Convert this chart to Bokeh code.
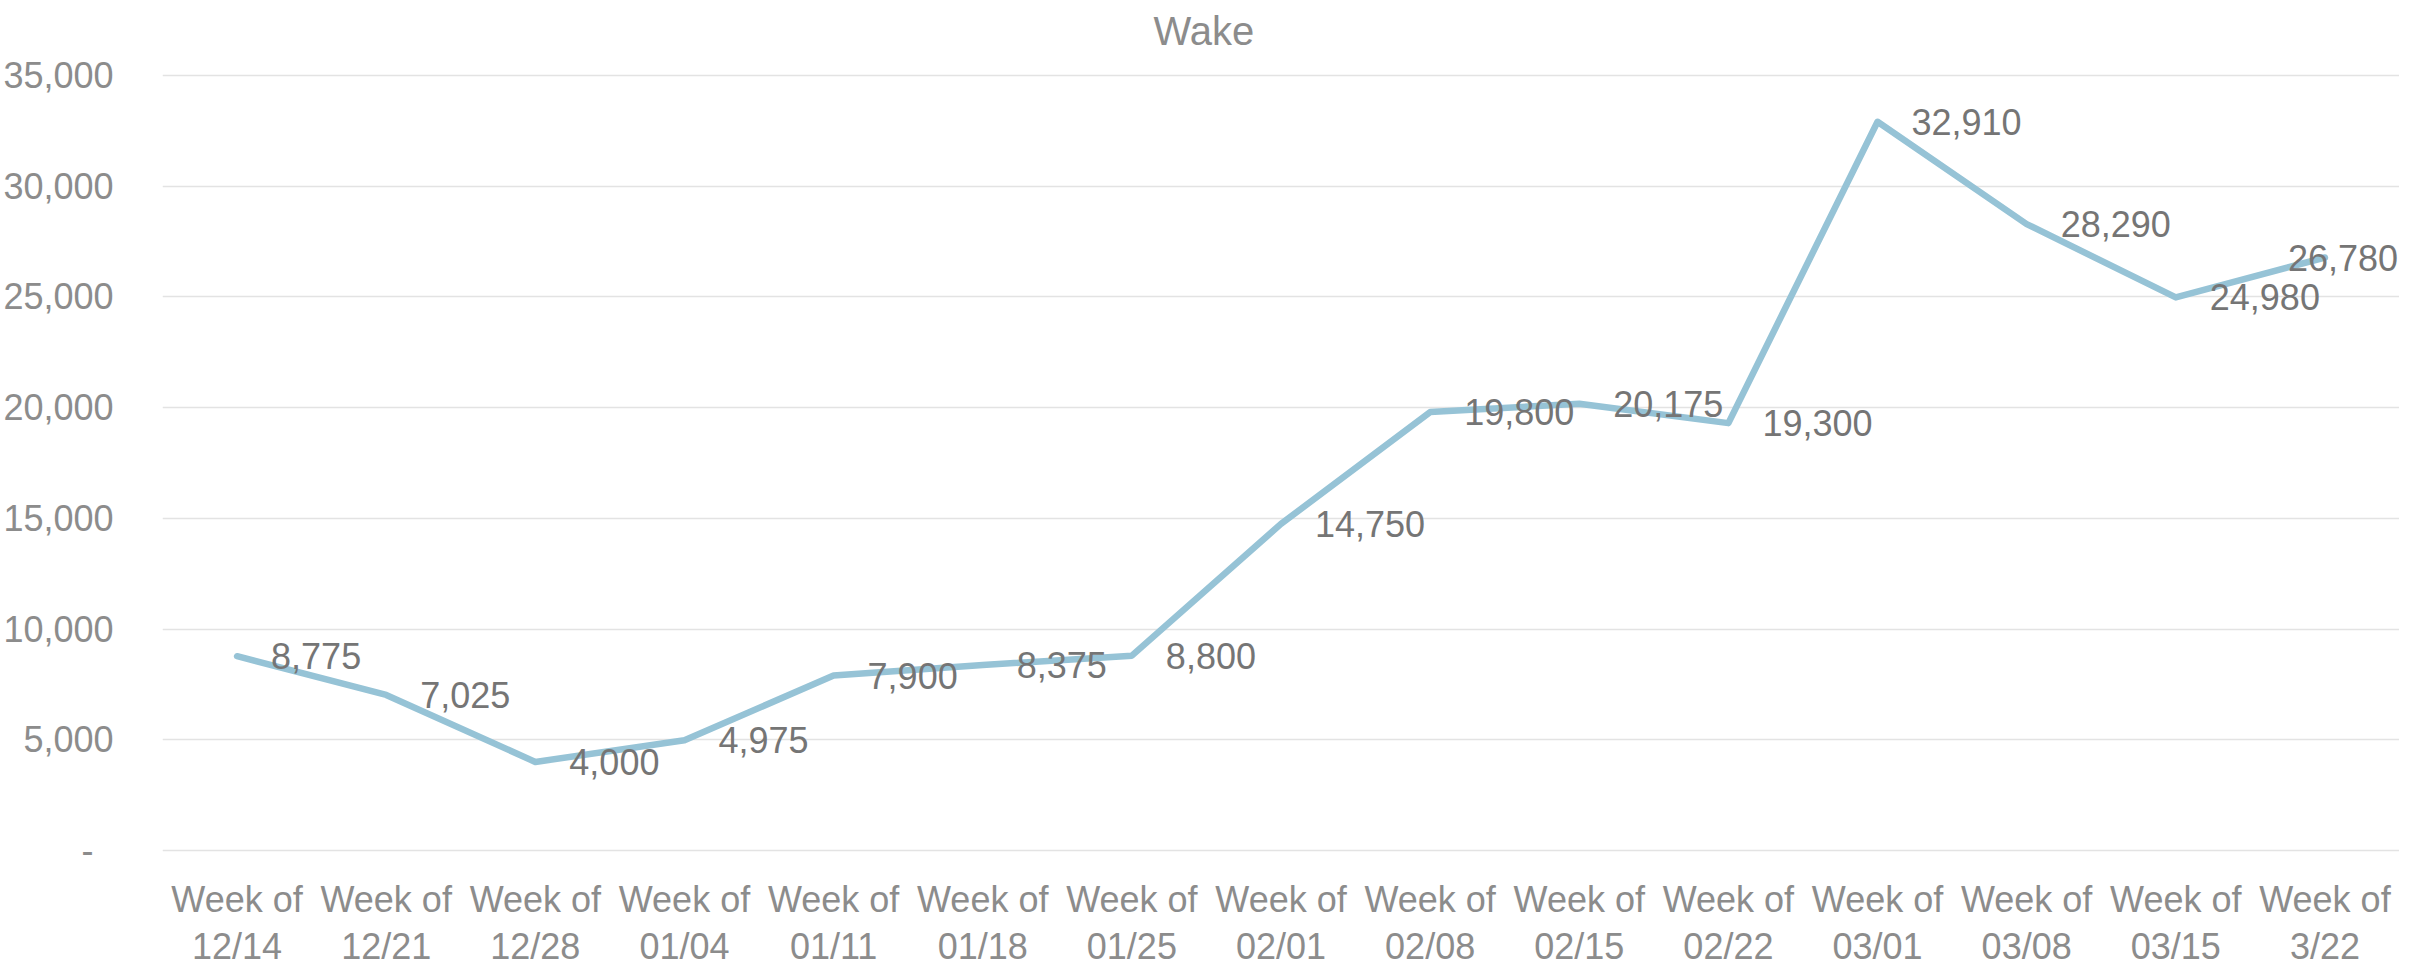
from bokeh.plotting import figure
from bokeh.models import (ColumnDataSource, FactorRange, Range1d, NumeralTickFormatter,
                          FixedTicker, Label)
from bokeh.core.properties import value
from bokeh.embed import file_html
from bokeh.resources import INLINE

# ---- data ----
weeks = ["12/14", "12/21", "12/28", "01/04", "01/11", "01/18", "01/25", "02/01",
         "02/08", "02/15", "02/22", "03/01", "03/08", "03/15", "3/22"]
cases = [8775, 7025, 4000, 4975, 7900, 8375, 8800, 14750,
         19800, 20175, 19300, 32910, 28290, 24980, 26780]
y_ticks = [0, 5000, 10000, 15000, 20000, 25000, 30000, 35000]
week_prefix = "Week of"
title_text = "Wake"

labels = [f"{v:,}" for v in cases]
label_dx = [34] * (len(cases) - 1) + [-37]

# ---- style / geometry ----
FONT = "Liberation Sans"
FS = "36px"
TICK_COLOR = "#8C8C8C"
LABEL_COLOR = "#757575"
LINE_COLOR = "#96C3D6"
GRID_COLOR = "#E3E3E3"

W, H = 2399, 968
LEFT = 154
ZERO_PX = 850          # pixel row (from canvas top) of value 0
TOP_TICK_PX = 75       # pixel row of the top tick
UPP = (y_ticks[-1] - y_ticks[0]) / (ZERO_PX - TOP_TICK_PX)   # data units per pixel
y_start = -(H - ZERO_PX) * UPP
y_end = ZERO_PX * UPP
ROW1_PX, ROW2_PX, TITLE_PX = 899, 946, 30   # vertical centres of text rows

src = ColumnDataSource(dict(x=weeks, y=cases, t=labels, dx=label_dx))

p = figure(width=W, height=H, x_range=FactorRange(*weeks, range_padding=0),
           y_range=Range1d(y_start, y_end), x_axis_location=None,
           output_backend="svg", toolbar_location=None,
           min_border_left=LEFT, min_border_right=0, min_border_top=0, min_border_bottom=0)
p.outline_line_color = None
p.background_fill_color = "white"
p.border_fill_color = "white"

for g in p.grid:
    if g.dimension == 0:
        g.visible = False

p.line("x", "y", source=src, line_color=LINE_COLOR, line_width=6.5,
       line_cap="round", line_join="round")
p.text("x", "y", text="t", source=src, x_offset="dx", text_align="left",
       text_baseline="middle", text_font=value(FONT), text_font_size=FS,
       text_color=LABEL_COLOR)

# category labels (two lines) under the zero line
n = len(weeks)
p.text(x=weeks, y=[(ZERO_PX - ROW1_PX) * UPP] * n, text=[week_prefix] * n,
       text_align="center", text_baseline="middle", text_font=value(FONT),
       text_font_size=FS, text_color=TICK_COLOR)
p.text(x=weeks, y=[(ZERO_PX - ROW2_PX) * UPP] * n, text=weeks,
       text_align="center", text_baseline="middle", text_font=value(FONT),
       text_font_size=FS, text_color=TICK_COLOR)

ax = p.yaxis[0]
ax.ticker = FixedTicker(ticks=y_ticks)
ax.formatter = NumeralTickFormatter(format="0,0")
ax.major_label_overrides = {0: "-\u2007"}
ax.axis_line_color = None
ax.major_tick_line_color = None
ax.minor_tick_line_color = None
ax.major_tick_out = 0
ax.major_tick_in = 0
ax.major_label_text_font = FONT
ax.major_label_text_font_size = FS
ax.major_label_text_color = TICK_COLOR
ax.major_label_standoff = 49

for g in p.grid:
    if g.dimension == 1:
        g.grid_line_color = GRID_COLOR
        g.grid_line_width = 1.5

p.add_layout(Label(x=(1199 - LEFT) / ((W - LEFT) / n), y=(ZERO_PX - TITLE_PX) * UPP,
                   text=title_text, text_align="center", text_baseline="middle",
                   text_font=FONT, text_font_size="40px", text_color=TICK_COLOR))

open("out.html", "w").write(file_html(p, INLINE))
